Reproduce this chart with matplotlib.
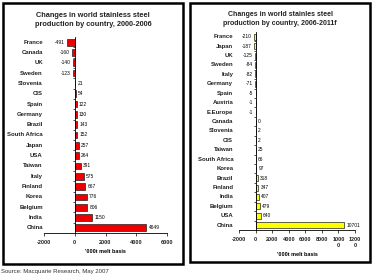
import matplotlib
matplotlib.use('Agg')
import matplotlib.pyplot as plt
from matplotlib.patches import Rectangle

plt.rcParams['font.family'] = ['Liberation Sans', 'DejaVu Sans']

# left chart: 2000-2006
left_countries = ['France', 'Canada', 'UK', 'Sweden', 'Slovenia', 'CIS', 'Spain', 'Germany',
                  'Brazil', 'South Africa', 'Japan', 'USA', 'Taiwan', 'Italy', 'Finland',
                  'Korea', 'Belgium', 'India', 'China']
left_values = [-491, -160, -140, -123, 21, 54, 122, 130, 143, 152, 257, 264, 391, 575, 667,
               776, 806, 1150, 4649]
left_ticks = [-2000, 0, 2000, 4000, 6000]

# right chart: 2006-2011f
right_countries = ['France', 'Japan', 'UK', 'Sweden', 'Italy', 'Germany', 'Spain', 'Austria',
                   'E.Europe', 'Canada', 'Slovenia', 'CIS', 'Taiwan', 'South Africa', 'Korea',
                   'Brazil', 'Finland', 'India', 'Belgium', 'USA', 'China']
right_values = [-210, -187, -125, -84, -82, -71, -5, -1, -1, 0, 2, 2, 25, 66, 97, 318, 347,
                407, 479, 640, 10701]
right_ticks = [-2000, 0, 2000, 4000, 6000, 8000, 10000, 12000]
right_ticklabels = ['-2000', '0', '2000', '4000', '6000', '8000', '1000\n0', '1200\n0']

W, H = 373, 275
fig = plt.figure(figsize=(W / 100, H / 100), dpi=100)
fig.patch.set_facecolor('white')


def px(x0, top, x1, bottom):
    return [x0 / W, 1 - bottom / H, (x1 - x0) / W, (bottom - top) / H]


def draw(ax, countries, values, color, ticks, ticklabels, name_dx, label_dx):
    n = len(countries)
    y = list(range(n))
    ax.barh(y, values, height=0.65, color=color, edgecolor='#222222', linewidth=0.5)
    ax.set_xlim(ticks[0], ticks[-1])
    ax.set_ylim(n - 0.5, -0.5)
    for s in ['top', 'right']:
        ax.spines[s].set_visible(False)
    ax.spines['left'].set_position(('data', 0))
    ax.spines['left'].set_linewidth(0.6)
    ax.spines['bottom'].set_linewidth(0.6)
    ax.set_yticks([i + 0.5 for i in range(n - 1)])
    ax.set_yticklabels([])
    ax.tick_params(axis='y', length=1.5, width=0.5, direction='out')
    ax.set_xticks(ticks)
    ax.set_xticklabels(ticklabels, fontsize=4.0, fontweight='bold', color='#222222')
    ax.tick_params(axis='x', length=2, width=0.5, pad=3)
    ax.set_xlabel("'000t melt basis", fontsize=4.0, fontweight='bold', labelpad=3)
    for i, (c, v) in enumerate(zip(countries, values)):
        ax.text(name_dx, i, c, transform=ax.get_yaxis_transform(), ha='right', va='center',
                fontsize=4.3, fontweight='bold', color='#222222')
        if v < 0:
            ax.text(v - label_dx, i, str(v), ha='right', va='center', fontsize=3.5)
        else:
            ax.text(v + label_dx, i, str(v), ha='left', va='center', fontsize=3.5)
    ax.set_facecolor('white')


ax1 = fig.add_axes(px(44, 37, 167, 233))
draw(ax1, left_countries, left_values, '#ee0000', left_ticks,
     [str(t) for t in left_ticks], -0.01, 150)

ax2 = fig.add_axes(px(239, 32, 355, 230))
draw(ax2, right_countries, right_values, '#ffff00', right_ticks, right_ticklabels, -0.05, 250)

# boxes around each chart
fig.patches.append(Rectangle((3 / W, 1 - 264 / H), 180 / W, 261 / H, transform=fig.transFigure,
                             fill=False, edgecolor='black', linewidth=1.8))
fig.patches.append(Rectangle((190 / W, 1 - 262 / H), 180 / W, 259 / H, transform=fig.transFigure,
                             fill=False, edgecolor='black', linewidth=1.8))

fig.text(93 / W, 1 - 20 / H, 'Changes in world stainless steel\nproduction by country, 2000-2006',
         ha='center', va='center', fontsize=5.3, fontweight='bold', color='#222222',
         linespacing=1.35)
fig.text(280 / W, 1 - 19 / H, 'Changes in world stainles steel\nproduction by country, 2006-2011f',
         ha='center', va='center', fontsize=5.0, fontweight='bold', color='#222222',
         linespacing=1.35)
fig.text(1 / W, 1 - 272 / H, 'Source: Macquarie Research, May 2007', ha='left', va='center',
         fontsize=4.3, color='#333333')

fig.savefig('out.png', dpi=100)
